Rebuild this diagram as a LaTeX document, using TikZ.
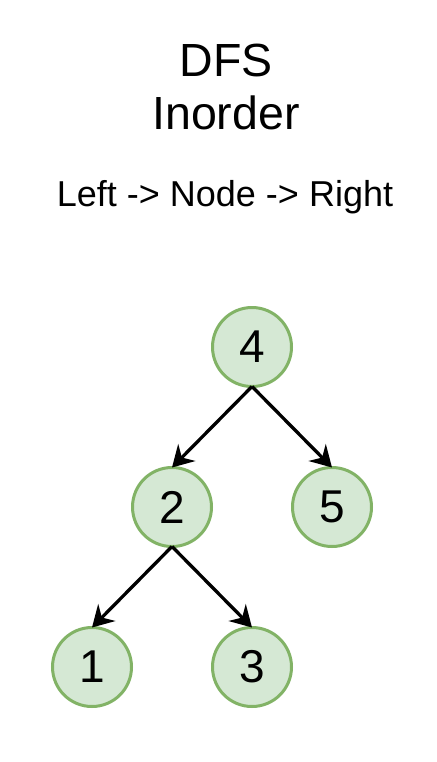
\documentclass[tikz,border=0pt]{standalone}
\usepackage{fontspec}
\setmainfont{Liberation Sans}
\usetikzlibrary{arrows.meta}
\definecolor{nfill}{HTML}{D5E8D4}
\definecolor{nline}{HTML}{82B366}
\begin{document}
\begin{tikzpicture}[x=1pt,y=-1pt,
  tnode/.style={circle,draw=nline,fill=nfill,line width=3pt,minimum size=79pt,inner sep=0pt,outer sep=0pt,font=\fontsize{46}{55}\selectfont},
  edge/.style={line width=3.3pt,-{Stealth[length=21pt,width=24pt,inset=7pt]}},
  ttl/.style={anchor=base,inner sep=0pt,font=\fontsize{46.5}{55}\selectfont},
  sub/.style={anchor=base,inner sep=0pt,font=\fontsize{36}{43}\selectfont}]
\useasboundingbox[fill=white] (0,0) rectangle (436,762);
\node[ttl] (t1) at (226,77) {DFS};
\node[ttl] (t2) at (226,130) {Inorder};
\node[sub] (t3) at (225,206) {Left -> Node -> Right};
\node[tnode] (n4) at (252,347) {4};
\node[tnode] (n2) at (172,507) {2};
\node[tnode] (n5) at (332,507) {5};
\node[tnode] (n1) at (92,667) {1};
\node[tnode] (n3) at (252,667) {3};
\draw[edge] (n4.south) -- (n2.north);
\draw[edge] (n4.south) -- (n5.north);
\draw[edge] (n2.south) -- (n1.north);
\draw[edge] (n2.south) -- (n3.north);
\end{tikzpicture}
\end{document}
